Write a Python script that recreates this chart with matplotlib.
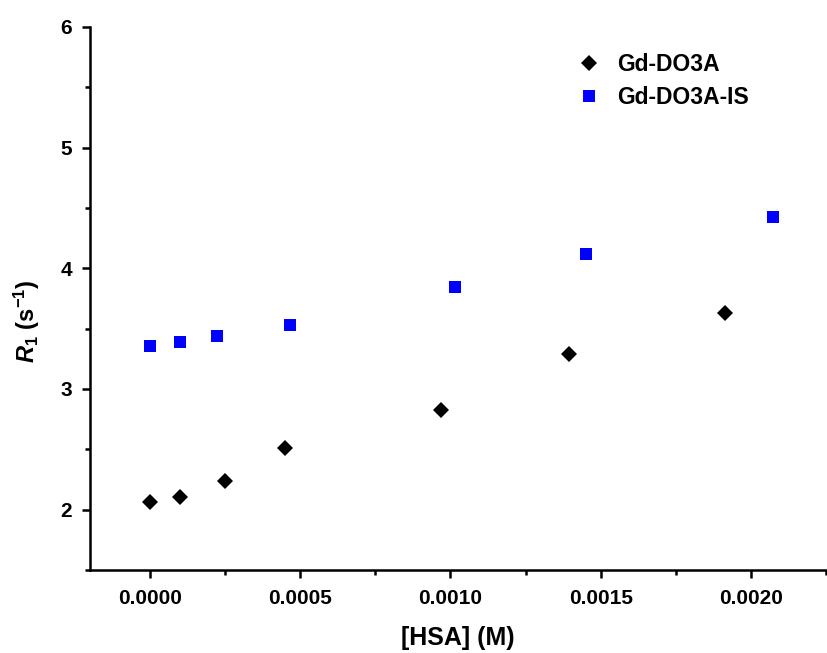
import matplotlib
matplotlib.use('Agg')
import matplotlib.pyplot as plt
from matplotlib.ticker import MultipleLocator, FormatStrFormatter

plt.rcParams['font.family'] = ['Liberation Sans', 'DejaVu Sans']
plt.rcParams['font.weight'] = 'bold'
plt.rcParams['mathtext.fontset'] = 'custom'
plt.rcParams['mathtext.rm'] = 'Liberation Sans:bold'
plt.rcParams['mathtext.it'] = 'Liberation Sans:italic:bold'
plt.rcParams['mathtext.default'] = 'rm'

#data
hsa_do3a = [0.0, 0.0001, 0.000251, 0.00045, 0.000967, 0.001394, 0.001914]
r1_do3a = [2.064, 2.105, 2.238, 2.513, 2.822, 3.294, 3.629]
hsa_is = [0.0, 0.0001, 0.000224, 0.000467, 0.001016, 0.00145, 0.002072]
r1_is = [3.358, 3.386, 3.441, 3.532, 3.849, 4.12, 4.429]

fig = plt.figure(figsize=(8.27, 6.53), dpi=100)
ax = fig.add_axes([90/827, 1-570/653, 736/827, 543/653])

ax.plot(hsa_do3a, r1_do3a, 'D', color='black', ms=8.6, mew=0, label='Gd-DO3A')
ax.plot(hsa_is, r1_is, 's', color='blue', ms=8.6, mew=0, label='Gd-DO3A-IS')

ax.set_xlim(-0.0002, 0.00225)
ax.set_ylim(1.5, 6)
ax.xaxis.set_major_locator(MultipleLocator(0.0005))
ax.xaxis.set_minor_locator(MultipleLocator(0.00025))
ax.xaxis.set_major_formatter(FormatStrFormatter('%.4f'))
ax.yaxis.set_major_locator(MultipleLocator(1))
ax.yaxis.set_minor_locator(MultipleLocator(0.5))

for s in ['top', 'right']:
    ax.spines[s].set_visible(False)
for s in ['left', 'bottom']:
    ax.spines[s].set_linewidth(1.8)
ax.tick_params(which='major', direction='out', length=6, width=1.8, labelsize=15)
ax.tick_params(axis='x', which='major', pad=8)
ax.tick_params(axis='y', which='major', pad=7)
ax.tick_params(which='minor', direction='out', length=3.5, width=1.8)
for lab in ax.get_xticklabels() + ax.get_yticklabels():
    lab.set_fontweight('bold')

ax.set_xlabel('[HSA] (M)', fontsize=18, fontweight='bold', labelpad=13)
fig.text(27/827, 1-321/653, r'$\mathit{R}_{1}\ (s^{-1})$', fontsize=17,
         rotation=90, ha='center', va='center')

ax.legend(loc='upper left', bbox_to_anchor=(578/827, 1-53/653),
          bbox_transform=fig.transFigure, frameon=False, numpoints=1,
          fontsize=16.5, handlelength=1, handletextpad=0.72,
          borderpad=0, borderaxespad=0, labelspacing=0.42)

fig.savefig('out.png', dpi=100)
